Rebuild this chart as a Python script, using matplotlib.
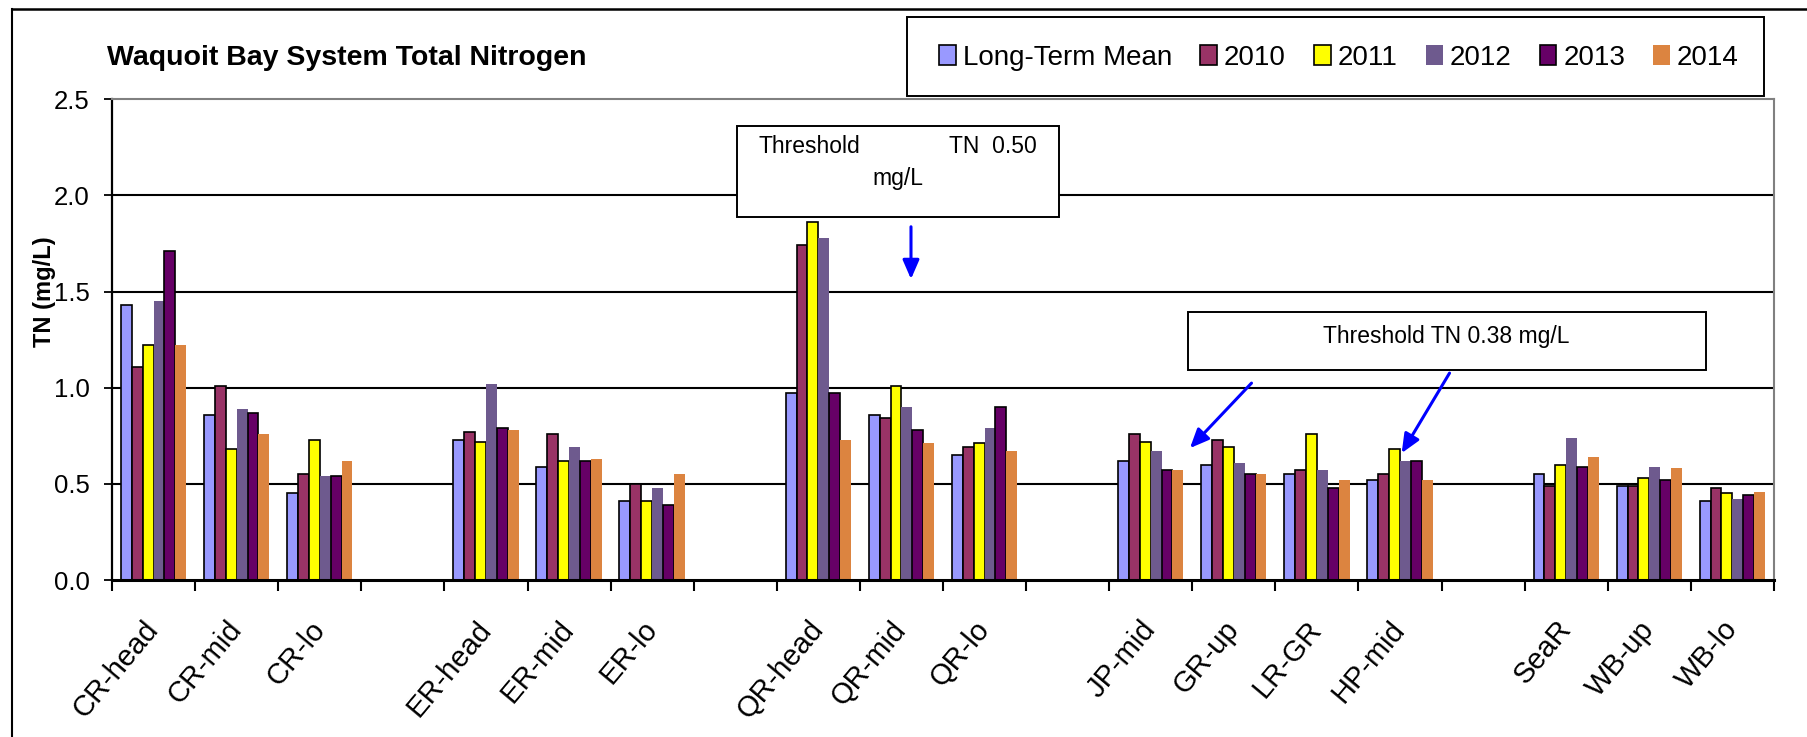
import numpy as np
import matplotlib.pyplot as plt
from matplotlib.patches import Rectangle

plt.rcParams['font.family'] = ['Liberation Sans', 'DejaVu Sans']

site_groups = [
    ["CR-head", "CR-mid", "CR-lo"],
    ["ER-head", "ER-mid", "ER-lo"],
    ["QR-head", "QR-mid", "QR-lo"],
    ["JP-mid", "GR-up", "LR-GR", "HP-mid"],
    ["SeaR", "WB-up", "WB-lo"],
]

series_names = ["Long-Term Mean", "2010", "2011", "2012", "2013", "2014"]

ltm = [1.43, 0.86, 0.45, 0.73, 0.59, 0.41, 0.97, 0.86, 0.65, 0.62, 0.60, 0.55, 0.52, 0.55, 0.49, 0.41]
y2010 = [1.11, 1.01, 0.55, 0.77, 0.76, 0.50, 1.74, 0.84, 0.69, 0.76, 0.73, 0.57, 0.55, 0.49, 0.49, 0.48]
y2011 = [1.22, 0.68, 0.73, 0.72, 0.62, 0.41, 1.86, 1.01, 0.71, 0.72, 0.69, 0.76, 0.68, 0.60, 0.53, 0.45]
y2012 = [1.45, 0.89, 0.54, 1.02, 0.69, 0.48, 1.78, 0.90, 0.79, 0.67, 0.61, 0.57, 0.62, 0.74, 0.59, 0.42]
y2013 = [1.71, 0.87, 0.54, 0.79, 0.62, 0.39, 0.97, 0.78, 0.90, 0.57, 0.55, 0.48, 0.62, 0.59, 0.52, 0.44]
y2014 = [1.22, 0.76, 0.62, 0.78, 0.63, 0.55, 0.73, 0.71, 0.67, 0.57, 0.55, 0.52, 0.52, 0.64, 0.58, 0.46]

colors = ["#9999FF", "#993366", "#FFFF00", "#6E5A8E", "#660066", "#DC8440"]
outlined = [True, True, True, False, True, False]

# slot positions, one empty slot between groups
positions = []
labels = []
pos = 0
for group in site_groups:
    for site in group:
        positions.append(pos)
        labels.append(site)
        pos += 1
    pos += 1
n_slots = pos - 1
positions = np.array(positions)

fig = plt.figure(figsize=(18.07, 7.37), dpi=100)
ax = fig.add_axes([0.062, 0.213, 0.9197, 0.6523])

bw = 0.131
all_vals = [ltm, y2010, y2011, y2012, y2013, y2014]
handles = []
for i, (vals, name) in enumerate(zip(all_vals, series_names)):
    off = (i - 2.5) * bw
    ec = "black" if outlined[i] else "none"
    ax.bar(positions + off, vals, width=bw, color=colors[i], edgecolor=ec,
           linewidth=1.2, zorder=3)
    handles.append(Rectangle((0, 0), 1, 1, facecolor=colors[i], edgecolor=ec, linewidth=1.2))

ax.set_xlim(-0.5, n_slots - 0.5)
ax.set_ylim(0, 2.5)
ax.set_yticks(np.arange(0, 2.51, 0.5))
ax.set_yticklabels(["%.1f" % v for v in np.arange(0, 2.51, 0.5)], fontsize=18.5)
ax.tick_params(axis='y', direction='out', length=6, width=1.3, pad=10)

ax.set_xticks(positions)
ax.set_xticklabels(labels, fontsize=21, rotation=50, ha='right', va='center',
                   rotation_mode='anchor')
ax.tick_params(axis='x', length=0, pad=32)
ax.set_xticks(np.arange(-0.5, n_slots, 1.0), minor=True)
ax.tick_params(axis='x', which='minor', direction='out', length=8, width=1.5)

for v in [0.5, 1.0, 1.5, 2.0]:
    ax.axhline(v, color="black", linewidth=1.5, zorder=1)

ax.spines['left'].set_linewidth(1.6)
ax.spines['bottom'].set_linewidth(2.2)
ax.spines['bottom'].set_zorder(4)
ax.spines['top'].set_color("#808080")
ax.spines['top'].set_linewidth(1.5)
ax.spines['right'].set_color("#808080")
ax.spines['right'].set_linewidth(1.5)

# threshold boxes
ax.add_patch(Rectangle((7.02, 1.886), 3.88, 0.476, facecolor="white", edgecolor="black",
                       linewidth=1.4, zorder=5, clip_on=False))
ax.text(7.274, 2.22, "Threshold", fontsize=16.5, ha='left', va='baseline', zorder=6)
ax.text(10.63, 2.22, "TN  0.50", fontsize=16.5, ha='right', va='baseline', zorder=6)
ax.text(8.96, 2.054, "mg/L", fontsize=16.5, ha='center', va='baseline', zorder=6)

ax.add_patch(Rectangle((12.448, 1.092), 6.232, 0.302, facecolor="white", edgecolor="black",
                       linewidth=1.4, zorder=5, clip_on=False))
ax.text(15.56, 1.232, "Threshold TN 0.38 mg/L", fontsize=16.5, ha='center', va='baseline', zorder=6)

arrows = [((9.115, 1.837), (9.115, 1.565)),
          ((13.213, 1.024), (12.472, 0.686)),
          ((15.596, 1.076), (15.02, 0.660))]
for start, tip in arrows:
    ax.annotate("", xy=tip, xytext=start,
                arrowprops=dict(arrowstyle="-|>,head_length=1.15,head_width=0.5",
                                color="blue", lw=2.2, shrinkA=0, shrinkB=0),
                zorder=7)

# title, y label
fig.text(107 / 1807, 1 - 65 / 737, "Waquoit Bay System Total Nitrogen", fontsize=20.5,
         fontweight='bold', ha='left', va='baseline')
fig.text(45 / 1807, 1 - 292 / 737, "TN (mg/L)", fontsize=17, fontweight='bold',
         rotation=90, ha='center', va='center')

# legend in its own box
fig.patches.append(Rectangle((907 / 1807, 1 - 96 / 737), (1764 - 907) / 1807, 79 / 737,
                             transform=fig.transFigure, facecolor="white",
                             edgecolor="black", linewidth=1.4))
fig.legend(handles, series_names, loc='center left',
           bbox_to_anchor=(939 / 1807, 1 - 58 / 737), ncol=6, frameon=False,
           fontsize=20, borderpad=0, borderaxespad=0, handlelength=0.61,
           handleheight=0.72, handletextpad=0.24, columnspacing=1.02)

# outer frame (left and top only)
fig.add_artist(plt.Line2D([12 / 1807, 12 / 1807], [0, 1 - 9 / 737], color="black",
                          linewidth=1.5, transform=fig.transFigure))
fig.add_artist(plt.Line2D([12 / 1807, 1], [1 - 9 / 737, 1 - 9 / 737], color="black",
                          linewidth=1.8, transform=fig.transFigure))

fig.savefig("out.png", dpi=100)
